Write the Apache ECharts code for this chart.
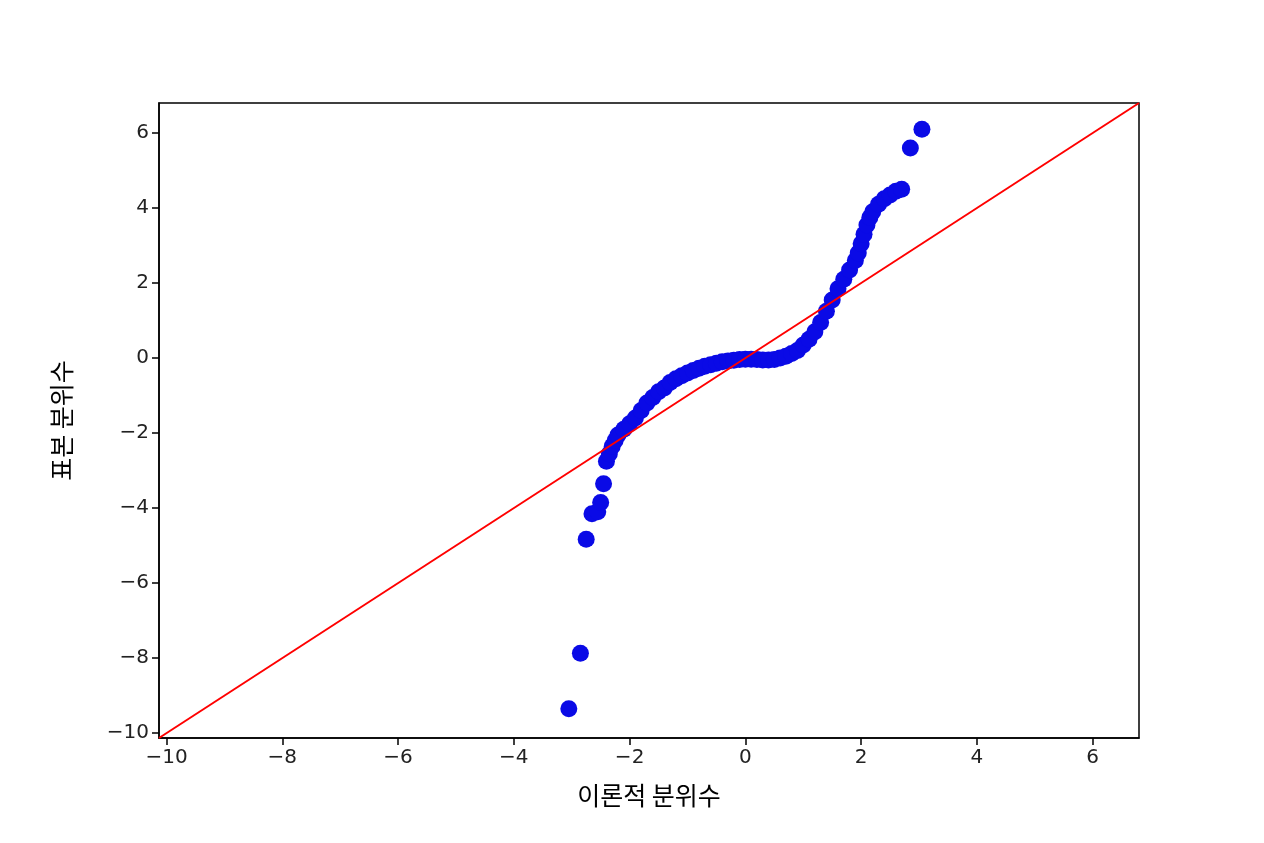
<!DOCTYPE html>
<html>
<head>
<meta charset="utf-8">
<script src="https://cdn.jsdelivr.net/npm/echarts@6/dist/echarts.min.js"></script>
<style>html,body{margin:0;padding:0;background:#fff}#chart{width:1264px;height:843px}</style>
</head>
<body>
<div id="chart"></div>
<script>
// 이론적 분위수 / 표본 분위수 (Q-Q plot)
const theoretical = [-3.05, -2.85, -2.75, -2.65, -2.55, -2.5, -2.45, -2.4,
  -2.35, -2.3, -2.25, -2.2, -2.1, -2.0, -1.9, -1.8, -1.7, -1.6, -1.5, -1.4, -1.3, -1.2, -1.1, -1.0,
  -0.9, -0.8, -0.7, -0.6, -0.5, -0.4, -0.3, -0.2, -0.1, 0, 0.1, 0.2, 0.3, 0.4, 0.5, 0.6, 0.7, 0.8,
  0.9, 1.0, 1.1, 1.2, 1.3, 1.4, 1.5, 1.6, 1.7, 1.8, 1.9, 1.95, 2.0, 2.05, 2.1, 2.15, 2.2, 2.3, 2.4,
  2.5, 2.6, 2.7, 2.85, 3.05];
const sample = [-9.35, -7.87, -4.83, -4.15, -4.1, -3.85, -3.35, -2.75,
  -2.55, -2.35, -2.2, -2.05, -1.9, -1.75, -1.6, -1.4, -1.2, -1.05, -0.9, -0.8, -0.65, -0.55, -0.47, -0.4,
  -0.33, -0.27, -0.22, -0.18, -0.14, -0.1, -0.08, -0.06, -0.04, -0.03, -0.03, -0.04, -0.05, -0.05, -0.04, 0.0, 0.05, 0.12,
  0.2, 0.35, 0.5, 0.7, 0.95, 1.25, 1.55, 1.85, 2.1, 2.35, 2.6, 2.8, 3.05, 3.3, 3.55, 3.75, 3.9, 4.1, 4.25,
  4.35, 4.45, 4.5, 5.6, 6.1];
const axisMin = -10.13;
const axisMax = 6.8;
const ticks = [-10, -8, -6, -4, -2, 0, 2, 4, 6];

const points = theoretical.map((x, i) => [x, sample[i]]);
const fmt = v => String(v).replace('-', '\u2212');

function axis(name, gap, extra) {
    return Object.assign({
        type: 'value', min: axisMin, max: axisMax,
        name: name, nameLocation: 'middle', nameGap: gap,
        nameTextStyle: { fontSize: 25, color: '#000', fontFamily: 'Noto Sans CJK KR' },
        splitLine: { show: false },
        axisLine: { show: true, onZero: false, lineStyle: { color: '#000', width: 1.5 } },
        axisTick: { show: true, length: 7, customValues: ticks, lineStyle: { color: '#000', width: 1.5 } },
        axisLabel: { customValues: ticks, formatter: fmt, fontSize: 20, color: '#222', fontFamily: 'DejaVu Sans', margin: 10 }
    }, extra);
}

const chart = echarts.init(document.getElementById('chart'));
chart.setOption({
    animation: false,
    grid: { left: 159, right: 125, top: 103, bottom: 105, show: true, borderColor: '#000', borderWidth: 1.5 },
    xAxis: axis('이론적 분위수', 45),
    yAxis: axis('표본 분위수', 85),
    series: [
        { type: 'scatter', data: points, symbolSize: 17, itemStyle: { color: '#0a0ae6', opacity: 1 } },
        { type: 'line', data: [[axisMin, axisMin], [axisMax, axisMax]], showSymbol: false,
          lineStyle: { color: '#f00', width: 2 }, z: 3 }
    ]
});
</script>
</body>
</html>
